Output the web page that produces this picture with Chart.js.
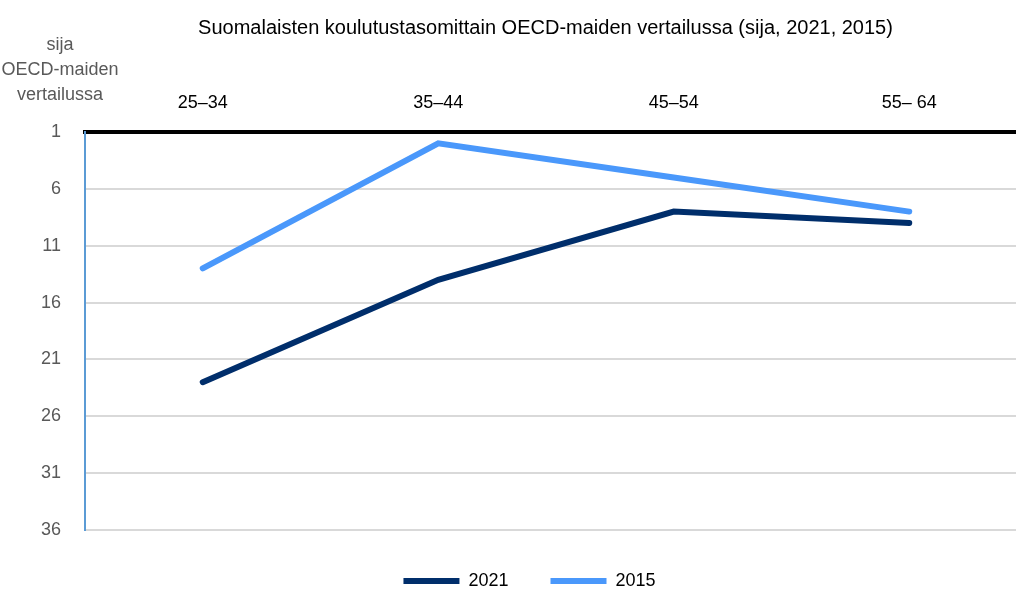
<!DOCTYPE html>
<html>
<head>
<meta charset="utf-8">
<script src="https://cdn.jsdelivr.net/npm/chart.js@4/dist/chart.umd.min.js"></script>
<style>
  html, body { margin: 0; padding: 0; overflow: hidden; background: #fff; }
  #wrap { width: 1032px; height: 600px; }
</style>
</head>
<body>
<div id="wrap"><canvas id="rankChart"></canvas></div>
<script>
// age groups and OECD rank of Finland per age group
const ageGroups = ['25\u201334', '35\u201344', '45\u201354', '55\u2013 64'];
const rank2021 = [23, 14, 8, 9];
const rank2015 = [13, 2, 5, 8];
const rankTicks = [1, 6, 11, 16, 21, 26, 31, 36];

const fontFamily = "'Liberation Sans Narrow', 'Liberation Sans', Arial, sans-serif";

// y axis title drawn top-left, above tick labels
const cornerTitle = {
    id: 'cornerTitle',
    afterLayout(chart) {
        // title and legend sit a bit right of the canvas centre in the original
        if (chart.titleBlock) { chart.titleBlock.left += 32; chart.titleBlock.right += 32; }
        if (chart.legend) { chart.legend.left += 16; chart.legend.right += 16; }
    },
    afterDraw(chart) {
        const ctx = chart.ctx;
        const x = chart.chartArea.left - 25;
        ctx.save();
        ctx.font = '18px ' + fontFamily;
        ctx.fillStyle = '#595959';
        ctx.textAlign = 'center';
        ctx.textBaseline = 'middle';
        ['sija', 'OECD-maiden', 'vertailussa'].forEach(function (line, i) {
            ctx.fillText(line, x, 45 + i * 25);
        });
        ctx.restore();
    }
};

const ctx = document.getElementById('rankChart').getContext('2d');
const rankChart = new Chart(ctx, {
    type: 'line',
    data: {
        labels: ageGroups,
        datasets: [{
            label: '2021',
            data: rank2021,
            borderColor: '#002e6b',
            backgroundColor: '#002e6b',
            borderWidth: 6,
            borderCapStyle: 'round',
            pointRadius: 0,
            tension: 0
        }, {
            label: '2015',
            data: rank2015,
            borderColor: '#4a98fb',
            backgroundColor: '#4a98fb',
            borderWidth: 6,
            borderCapStyle: 'round',
            pointRadius: 0,
            tension: 0
        }]
    },
    options: {
        responsive: true,
        maintainAspectRatio: false,
        animation: false,
        layout: { padding: { left: 0, right: 5, top: 0, bottom: 0 } },
        plugins: {
            title: {
                display: true,
                text: 'Suomalaisten koulutustasomittain OECD-maiden vertailussa (sija, 2021, 2015)',
                color: '#000',
                font: { family: fontFamily, size: 20, weight: 'normal' },
                padding: { top: 16, bottom: 10 },
                align: 'center'
            },
            legend: {
                position: 'bottom',
                labels: {
                    color: '#000',
                    font: { family: fontFamily, size: 18 },
                    boxWidth: 56,
                    boxHeight: 0,
                    padding: 42,
                    generateLabels(chart) {
                        return chart.data.datasets.map(function (ds, i) {
                            return {
                                text: ds.label,
                                strokeStyle: ds.borderColor,
                                fillStyle: ds.borderColor,
                                lineWidth: 6,
                                lineCap: 'round',
                                datasetIndex: i
                            };
                        });
                    }
                }
            },
            tooltip: { enabled: false }
        },
        scales: {
            x: {
                position: 'top',
                offset: true,
                afterFit(scale) { scale.height = 82; },
                grid: { display: false, drawTicks: false, offset: true },
                border: { display: true, color: '#000', width: 4 },
                ticks: {
                    color: '#000',
                    font: { family: fontFamily, size: 18 },
                    padding: 18,
                    maxRotation: 0
                }
            },
            y: {
                reverse: true,
                min: 1,
                max: 36,
                afterBuildTicks(scale) {
                    scale.ticks = rankTicks.map(function (v) { return { value: v }; });
                },
                afterFit(scale) { scale.width = 85; },
                grid: { color: '#d9d9d9', lineWidth: 2, drawTicks: false },
                border: { display: true, color: '#5b9bd5', width: 2 },
                ticks: {
                    color: '#595959',
                    font: { family: fontFamily, size: 18 },
                    padding: 24
                }
            }
        }
    },
    plugins: [cornerTitle]
});
</script>
</body>
</html>
